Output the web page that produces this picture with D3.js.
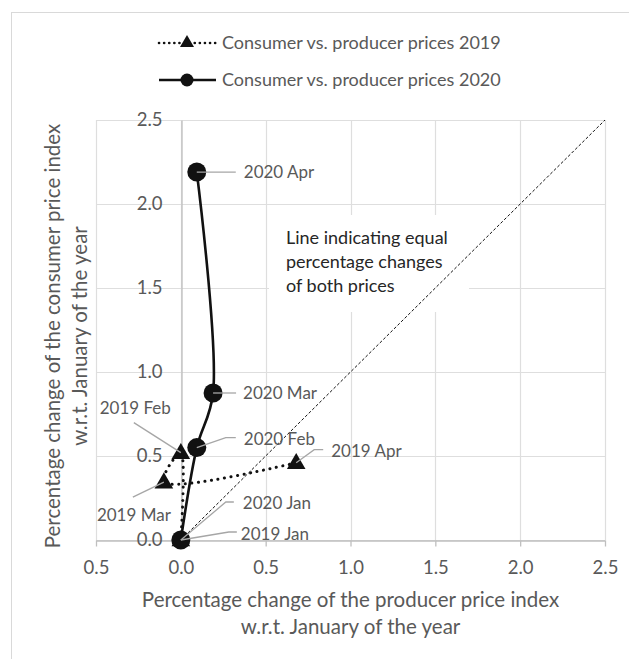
<!DOCTYPE html>
<html>
<head>
<meta charset="utf-8">
<script src="https://cdn.jsdelivr.net/npm/d3@7/dist/d3.min.js"></script>
<style>
  html, body { margin: 0; padding: 0; background: #fff; }
  svg { display: block; font-family: Lato, "Open Sans", sans-serif; }
</style>
</head>
<body>
<svg id="chart" width="629" height="659"></svg>
<script>
// ---- data ----
const labels2019 = ["2019 Jan", "2019 Feb", "2019 Mar", "2019 Apr"];
const ppi2019 = [0.0, 0.0, -0.10, 0.68];
const cpi2019 = [0.0, 0.52, 0.345, 0.46];

const labels2020 = ["2020 Jan", "2020 Feb", "2020 Mar", "2020 Apr"];
const ppi2020 = [0.0, 0.094, 0.19, 0.094];
const cpi2020 = [0.0, 0.55, 0.875, 2.19];

const xTicks = [-0.5, 0, 0.5, 1.0, 1.5, 2.0, 2.5];
const xTickLabels = ["0.5", "0.0", "0.5", "1.0", "1.5", "2.0", "2.5"];
const yTicks = [0, 0.5, 1.0, 1.5, 2.0, 2.5];
const yTickLabels = ["0.0", "0.5", "1.0", "1.5", "2.0", "2.5"];
const equalLine = [[0, 0], [2.5, 2.5]];

const legendNames = ["Consumer vs. producer prices 2019", "Consumer vs. producer prices 2020"];
const xTitle = ["Percentage change of the producer price index", "w.r.t. January of the year"];
const yTitle = ["Percentage change of the consumer price index", "w.r.t. January of the year"];
const noteLines = ["Line indicating equal", "percentage changes", "of both prices"];

// ---- layout (pixel offsets of data labels relative to their point) ----
const labelLayout2019 = [
  { tx: 60, ty: -6, anchor: "start", path: [[48, -8], [56, -8]] },
  { tx: -10, ty: -45, anchor: "end", path: [[-47, -30]] },
  { tx: 7, ty: 33, anchor: "end", path: [[-31, 15]] },
  { tx: 35, ty: -12, anchor: "start", path: [[18, -13], [27, -13]] }
];
const labelLayout2020 = [
  { tx: 62, ty: -37, anchor: "start", path: [[45, -38], [53, -38]] },
  { tx: 47, ty: -9, anchor: "start", path: [[29, -10], [39, -10]] },
  { tx: 30, ty: 0, anchor: "start", path: [[23, 0]] },
  { tx: 47, ty: 0, anchor: "start", path: [[39, 0]] }
];

const svg = d3.select("#chart");
const x = d3.scaleLinear().domain([-0.5, 2.5]).range([96, 605]);
const y = d3.scaleLinear().domain([0, 2.5]).range([540, 120]);

const gridColor = "#dedede";
const axisColor = "#bfbfbf";
const textColor = "#595959";
const labelSize = 17;
const tickSize = 18.5;
const legendSize = 18;
const noteSize = 18;
const titleSize = 20.5;

// outer frame
svg.append("rect").attr("x", 11.5).attr("y", 12.5).attr("width", 700).attr("height", 700)
  .attr("fill", "none").attr("stroke", "#d9d9d9").attr("stroke-width", 1);

// gridlines
const grid = svg.append("g");
grid.selectAll(".hg").data(yTicks).join("line")
  .attr("x1", x(-0.5)).attr("x2", x(2.5))
  .attr("y1", d => Math.round(y(d)) + 0.5).attr("y2", d => Math.round(y(d)) + 0.5)
  .attr("stroke", gridColor).attr("stroke-width", 1.2);
grid.selectAll(".vg").data(xTicks).join("line")
  .attr("x1", d => Math.round(x(d)) + 0.5).attr("x2", d => Math.round(x(d)) + 0.5)
  .attr("y1", y(2.5)).attr("y2", y(0))
  .attr("stroke", gridColor).attr("stroke-width", 1.2);

// annotation box (white) masking grid
svg.append("rect").attr("x", 269).attr("y", 215).attr("width", 200).attr("height", 97).attr("fill", "#fff");

// axes
const xAxis = d3.axisBottom(x).tickValues(xTicks).tickFormat((d, i) => xTickLabels[i])
  .tickSizeInner(6).tickSizeOuter(0).tickPadding(14);
const gx = svg.append("g").attr("transform", `translate(0,${Math.round(y(0)) + 0.5})`).call(xAxis);
gx.select(".domain").attr("stroke", axisColor).attr("stroke-width", 1.3);
gx.selectAll(".tick line").attr("stroke", axisColor).attr("stroke-width", 1.3);
gx.selectAll(".tick text").attr("fill", textColor).attr("font-size", tickSize)
  .attr("font-family", "Lato, sans-serif").attr("y", 27).attr("dy", "0.35em");

const yAxis = d3.axisLeft(y).tickValues(yTicks).tickFormat((d, i) => yTickLabels[i])
  .tickSize(0).tickPadding(19);
const gy = svg.append("g").attr("transform", `translate(${Math.round(x(0)) + 0.5},0)`).call(yAxis);
gy.select(".domain").attr("stroke", axisColor).attr("stroke-width", 1.3);
gy.selectAll(".tick text").attr("fill", textColor).attr("font-size", tickSize)
  .attr("font-family", "Lato, sans-serif");

// equal change line
svg.append("path").attr("d", d3.line().x(d => x(d[0])).y(d => y(d[1]))(equalLine))
  .attr("fill", "none").attr("stroke", "#111").attr("stroke-width", 1).attr("stroke-dasharray", "3,2");

// annotation text
svg.append("g").selectAll("text").data(noteLines).join("text")
  .attr("x", 286).attr("y", (d, i) => 238 + i * 24).attr("dy", "0.35em")
  .attr("fill", "#262626").attr("font-size", noteSize).text(d => d);

// series
const pts2019 = ppi2019.map((v, i) => [v, cpi2019[i]]);
const pts2020 = ppi2020.map((v, i) => [v, cpi2020[i]]);
const smooth = d3.line().x(d => x(d[0])).y(d => y(d[1])).curve(d3.curveCatmullRom.alpha(0.5));

svg.append("path").attr("d", smooth(pts2019)).attr("fill", "none")
  .attr("stroke", "#111").attr("stroke-width", 3).attr("stroke-linecap", "round")
  .attr("stroke-dasharray", "0.1,6.5");
svg.append("path").attr("d", smooth(pts2020)).attr("fill", "none")
  .attr("stroke", "#111").attr("stroke-width", 2.6);

const tri = d3.symbol().type(d3.symbolTriangle).size(150);
svg.append("g").selectAll("path").data(pts2019).join("path")
  .attr("d", tri).attr("transform", d => `translate(${x(d[0])},${y(d[1]) + 1})`).attr("fill", "#111");
svg.append("g").selectAll("circle").data(pts2020).join("circle")
  .attr("cx", d => x(d[0])).attr("cy", d => y(d[1])).attr("r", 9.5).attr("fill", "#111");

// data labels with leader lines
function drawLabels(pts, names, layout) {
  const g = svg.append("g");
  pts.forEach((d, i) => {
    const px = x(d[0]), py = y(d[1]);
    const L = layout[i];
    const coords = [[px, py]].concat(L.path.map(p => [px + p[0], py + p[1]]));
    g.append("path").attr("d", d3.line()(coords)).attr("fill", "none")
      .attr("stroke", "#a6a6a6").attr("stroke-width", 1.3);
    g.append("text").attr("x", px + L.tx).attr("y", py + L.ty).attr("dy", "0.35em")
      .attr("text-anchor", L.anchor).attr("fill", textColor).attr("font-size", labelSize).text(names[i]);
  });
}
drawLabels(pts2019, labels2019, labelLayout2019);
drawLabels(pts2020, labels2020, labelLayout2020);

// legend
const leg = svg.append("g");
const legY = [43, 80];
leg.append("line").attr("x1", 159).attr("x2", 216).attr("y1", legY[0]).attr("y2", legY[0])
  .attr("stroke", "#111").attr("stroke-width", 2.6).attr("stroke-linecap", "round").attr("stroke-dasharray", "0.1,5");
leg.append("path").attr("d", d3.symbol().type(d3.symbolTriangle).size(85))
  .attr("transform", `translate(187,${legY[0]})`).attr("fill", "#111");
leg.append("line").attr("x1", 159).attr("x2", 216).attr("y1", legY[1]).attr("y2", legY[1])
  .attr("stroke", "#111").attr("stroke-width", 2.6);
leg.append("circle").attr("cx", 187).attr("cy", legY[1]).attr("r", 6.5).attr("fill", "#111");
leg.selectAll("text").data(legendNames).join("text")
  .attr("x", 222).attr("y", (d, i) => legY[i]).attr("dy", "0.35em")
  .attr("fill", textColor).attr("font-size", legendSize).text(d => d);

// axis titles
svg.append("g").selectAll("text").data(xTitle).join("text")
  .attr("x", (x(-0.5) + x(2.5)) / 2).attr("y", (d, i) => 600 + i * 27).attr("dy", "0.35em")
  .attr("text-anchor", "middle").attr("fill", textColor).attr("font-size", titleSize).text(d => d);
svg.append("g").selectAll("text").data(yTitle).join("text")
  .attr("transform", (d, i) => `translate(${53 + i * 27},336) rotate(-90)`)
  .attr("dy", "0.35em").attr("text-anchor", "middle").attr("fill", textColor).attr("font-size", titleSize).text(d => d);
</script>
</body>
</html>
